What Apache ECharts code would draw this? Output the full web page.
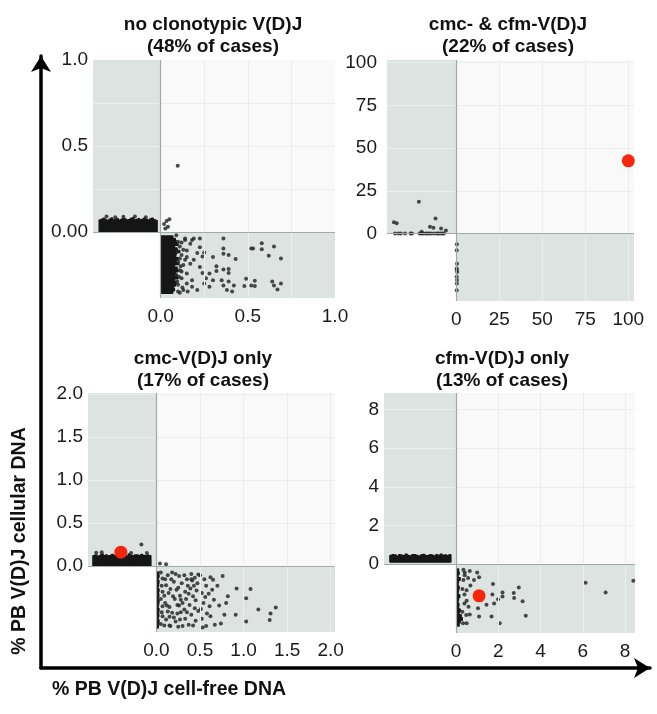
<!DOCTYPE html>
<html><head><meta charset="utf-8">
<script src="https://cdn.jsdelivr.net/npm/echarts@6/dist/echarts.min.js"></script>
<style>html,body{margin:0;padding:0;background:#fff}#c{width:657px;height:714px}</style>
</head><body><div id="c"></div>
<script>
// ---------- titles ----------
const panelTitles = [
  'no clonotypic V(D)J\n(48% of cases)',
  'cmc- & cfm-V(D)J\n(22% of cases)',
  'cmc-V(D)J only\n(17% of cases)',
  'cfm-V(D)J only\n(13% of cases)'
];
const xAxisTitle = '% PB V(D)J cell-free DNA';
const yAxisTitle = '% PB V(D)J cellular DNA';

// ---------- tick values / labels ----------
const p1Ticks = [0, 0.5, 1.0];       const p1XLabels = ['0.0','0.5','1.0']; const p1YLabels = ['0.00','0.5','1.0'];
const p2Ticks = [0, 25, 50, 75, 100]; const p2XLabels = ['0','25','50','75','100']; const p2YLabels = ['0','25','50','75','100'];
const p3Ticks = [0, 0.5, 1.0, 1.5, 2.0]; const p3XLabels = ['0.0','0.5','1.0','1.5','2.0']; const p3YLabels = ['0.0','0.5','1.0','1.5','2.0'];
const p4Ticks = [0, 2, 4, 6, 8];      const p4XLabels = ['0','2','4','6','8']; const p4YLabels = ['0','2','4','6','8'];

// ---------- panel 1: no clonotypic V(D)J ----------
// left strip: cellular values (cf-DNA undetectable), dense band upper envelope
const p1LeftBand = [0.07,0.075,0.08,0.072,0.068,0.075,0.082,0.07,0.074,0.078,0.069,0.073,0.08,0.076,0.07,0.072,0.079,0.083,0.071,0.074,0.077,0.07,0.075,0.081,0.073,0.069,0.076,0.08,0.072,0.068];
// [value, jitter]
const p1LeftPts = [[0.09,0.2],[0.088,0.45],[0.09,0.62],[0.085,0.78],[0.086,0.33]];
// bottom strip: cf-DNA values (cellular undetectable), dense band right envelope
const p1BottomBand = [0.07,0.085,0.09,0.1,0.08,0.095,0.11,0.09,0.085,0.1,0.09,0.105,0.08,0.095,0.1,0.085,0.09,0.1,0.08,0.09,0.085,0.075,0.08,0.07];
// [value, jitter]
const p1BottomPts = [
  [0.225,0.10],[0.36,0.10],[0.58,0.17],[0.65,0.22],[0.52,0.25],[0.53,0.25],[0.58,0.26],[0.36,0.25],
  [0.43,0.41],[0.69,0.40],[0.62,0.36],[0.39,0.35],[0.36,0.33],[0.30,0.38],[0.25,0.31],[0.24,0.37],
  [0.225,0.23],[0.18,0.12],[0.19,0.10],[0.17,0.18],[0.21,0.32],[0.32,0.52],[0.32,0.59],[0.39,0.56],
  [0.39,0.62],[0.36,0.57],[0.28,0.63],[0.26,0.70],[0.30,0.73],[0.25,0.78],[0.21,0.88],[0.35,0.73],
  [0.36,0.81],[0.39,0.75],[0.38,0.88],[0.41,0.90],[0.42,0.81],[0.49,0.71],[0.48,0.82],[0.52,0.81],
  [0.54,0.74],[0.54,0.82],[0.64,0.75],[0.65,0.81],[0.69,0.78],[0.67,0.87],[0.19,0.42],[0.17,0.48],
  [0.225,0.53],[0.24,0.62],[0.18,0.73],[0.18,0.83],[0.28,0.83],[0.14,0.12],[0.15,0.28],[0.15,0.38],
  [0.15,0.63],[0.15,0.78],[0.155,0.90],
  [0.09,0.05],[0.1,0.15],[0.11,0.22],[0.095,0.3],[0.12,0.35],[0.1,0.45],[0.13,0.5],[0.11,0.58],
  [0.09,0.65],[0.12,0.7],[0.1,0.8],[0.13,0.88],[0.11,0.92],[0.14,0.1],[0.12,0.6],[0.14,0.42],
  [0.095,0.75],[0.13,0.27],[0.12,0.16],[0.11,0.4],[0.105,0.68],[0.125,0.84],[0.115,0.52],[0.1,0.9]
];
// [cf-DNA, cellular]
const p1MainPts = [[0.02,0.047],[0.034,0.064],[0.05,0.074],[0.042,0.031],[0.027,0.02],[0.098,0.385]];

// ---------- panel 2: cmc- & cfm-V(D)J ----------
const p2LeftPts = [
  [0,0.116],[0,0.165],[0,0.2],[0,0.26],[0,0.34],[0,0.36],[0,0.47],[0,0.5],[0,0.52],[0,0.56],
  [0,0.58],[0,0.61],[0,0.64],[0,0.68],[0,0.72],[0,0.74],[0,0.77],[0,0.8],[0,0.82],
  [6.6,0.1],[6,0.14],[18.5,0.46],[8.8,0.7],[3.9,0.62],[3.3,0.67],[2.9,0.78],[1.8,0.85],[1.0,0.5]
];
const p2BottomPts = [[0.3,0.16],[0.2,0.25],[0.4,0.45],[0.2,0.52],[0.3,0.54],[0.5,0.57],[0.2,0.64],[0.4,0.69],[0.3,0.74],[0.2,0.84]];
const p2Red = [[100, 42.5]];

// ---------- panel 3: cmc-V(D)J only ----------
const p3LeftBand = [0.12,0.13,0.115,0.125,0.14,0.12,0.13,0.118,0.125,0.135,0.12,0.13,0.145,0.12,0.125,0.13,0.118,0.14,0.125,0.12,0.13,0.128,0.12,0.135,0.125,0.12,0.13,0.12];
const p3LeftPts = [[0.25,0.78],[0.16,0.2],[0.15,0.63],[0.155,0.12],[0.15,0.86]];
const p3BottomBand = [0.025,0.03,0.02,0.03,0.025,0.02,0.03,0.025,0.028,0.02,0.03,0.025,0.02,0.03,0.025,0.028,0.02,0.03,0.025,0.022];
const p3BottomPts = [
  [0.76,0.15],[0.92,0.34],[1.08,0.35],[1.03,0.49],[1.17,0.66],[1.37,0.63],[1.31,0.72],[1.30,0.82],
  [1.03,0.84],[0.91,0.74],[0.82,0.46],[0.80,0.56],[0.78,0.74],[0.74,0.87],[0.65,0.21],[0.62,0.17],
  [0.64,0.36],[0.66,0.51],[0.61,0.61],[0.62,0.76],[0.67,0.89],[0.57,0.91],[0.50,0.14],[0.47,0.26],
  [0.52,0.41],[0.54,0.56],[0.48,0.68],[0.45,0.83],[0.40,0.12],[0.41,0.22],[0.39,0.34],[0.42,0.46],
  [0.38,0.59],[0.40,0.74],[0.37,0.89],[0.32,0.14],[0.29,0.26],[0.33,0.39],[0.28,0.51],[0.32,0.66],
  [0.27,0.81],[0.30,0.91],[0.22,0.12],[0.20,0.24],[0.23,0.36],[0.19,0.46],[0.24,0.59],[0.18,0.71],
  [0.22,0.84],[0.16,0.91],[0.13,0.14],[0.11,0.29],[0.14,0.41],[0.10,0.56],[0.13,0.69],[0.11,0.81],
  [0.15,0.90],[0.07,0.19],[0.07,0.39],[0.07,0.61],[0.07,0.76],
  [0.05,0.1],[0.06,0.3],[0.05,0.5],[0.06,0.7],[0.05,0.88],[0.09,0.45],[0.09,0.9],[0.17,0.2],
  [0.16,0.35],[0.15,0.62],[0.2,0.78],[0.26,0.15],[0.25,0.33],[0.27,0.45],[0.26,0.6],[0.24,0.72],
  [0.25,0.92],[0.35,0.2],[0.36,0.3],[0.34,0.5],[0.35,0.7],[0.33,0.8],[0.44,0.18],[0.43,0.3],
  [0.45,0.52],[0.44,0.64],[0.42,0.9],[0.55,0.2],[0.57,0.3],[0.56,0.47],[0.58,0.72],[0.52,0.8],
  [0.6,0.42],[0.7,0.3],[0.72,0.6],[0.48,0.13],[0.51,0.65],[0.3,0.56],[0.21,0.5],[0.12,0.6],
  [0.18,0.1],[0.37,0.42],[0.46,0.37],[0.53,0.93],[0.1,0.2],[0.28,0.7],[0.4,0.2],[0.15,0.77]
];
const p3MainPts = [[0.04,0.03],[0.11,0.02]];
const p3RedLeft = [[0.16, 0.48]];

// ---------- panel 4: cfm-V(D)J only ----------
const p4LeftBand = [0.45,0.5,0.48,0.42,0.5,0.47,0.44,0.52,0.46,0.43,0.49,0.5,0.45,0.42,0.48,0.51,0.46,0.44,0.5,0.47,0.43,0.49,0.46,0.52,0.45,0.48,0.44,0.5];
const p4LeftBase = 0.1;
const p4BottomBand = [0.12,0.15,0.1,0.2,0.12,0.1,0.15,0.12,0.1,0.18,0.12,0.1,0.14,0.12,0.2,0.15,0.25,0.3,0.2,0.15];
const p4BottomPts = [
  [1.0,0.12],[1.09,0.19],[0.85,0.23],[0.41,0.16],[0.35,0.23],[0.57,0.20],[0.68,0.31],[1.75,0.29],
  [2.97,0.34],[2.73,0.42],[2.2,0.41],[2.2,0.47],[1.72,0.44],[1.99,0.51],[2.75,0.49],[3.15,0.54],
  [1.8,0.57],[1.44,0.59],[1.04,0.64],[0.59,0.62],[0.4,0.57],[0.5,0.53],[0.4,0.44],[0.3,0.36],
  [0.5,0.38],[0.3,0.69],[0.48,0.74],[0.65,0.73],[1.09,0.76],[1.68,0.76],[3.30,0.75],[2.07,0.86],
  [0.5,0.86],[0.33,0.86],[0.41,0.12],[0.35,0.08],[0.65,0.10],[6.13,0.27],[7.08,0.41],[8.39,0.24]
];
const p4RedBottom = [[1.09, 0.46]];

// ================= layout (pixels / axis ranges) =================
const panels = [
  {grid:{left:93, top:60, width:242, height:238}, xmin:-0.388, xmax:1.0, ymin:-0.384, ymax:1.0,
   ticks:p1Ticks, xl:p1XLabels, yl:p1YLabels, grid2:[0.25,0.5,0.75],
   leftBand:p1LeftBand, leftBase:0, lf:[0.09,0.95], bottomBand:p1BottomBand, bf:[0.06,0.93],
   leftPts:p1LeftPts, bottomPts:p1BottomPts, mainPts:p1MainPts, red:[], redLeft:[], redBottom:[],
   title:panelTitles[0], tx:213, ty:14},
  {grid:{left:387, top:60, width:247, height:241}, xmin:-40.3, xmax:103.3, ymin:-39.5, ymax:101.5,
   ticks:p2Ticks, xl:p2XLabels, yl:p2YLabels, grid2:[25,50,75,100],
   leftBand:[], leftBase:0, lf:[0,1], bottomBand:[], bf:[0,1],
   leftPts:p2LeftPts, bottomPts:p2BottomPts, mainPts:[], red:p2Red, redLeft:[], redBottom:[],
   title:panelTitles[1], tx:508, ty:14},
  {grid:{left:88, top:393, width:247, height:239}, xmin:-0.786, xmax:2.05, ymin:-0.767, ymax:2.01,
   ticks:p3Ticks, xl:p3XLabels, yl:p3YLabels, grid2:[0.5,1.0,1.5,2.0],
   leftBand:p3LeftBand, leftBase:0, lf:[0.07,0.92], bottomBand:p3BottomBand, bf:[0.09,0.94],
   leftPts:p3LeftPts, bottomPts:p3BottomPts, mainPts:p3MainPts, red:[], redLeft:p3RedLeft, redBottom:[],
   title:panelTitles[2], tx:203, ty:348},
  {grid:{left:384, top:393, width:251, height:240}, xmin:-3.41, xmax:8.47, ymin:-3.56, ymax:8.85,
   ticks:p4Ticks, xl:p4XLabels, yl:p4YLabels, grid2:[2,4,6,8],
   leftBand:p4LeftBand, leftBase:p4LeftBase, lf:[0.08,0.93], bottomBand:p4BottomBand, bf:[0.07,0.9],
   leftPts:[], bottomPts:p4BottomPts, mainPts:[], red:[], redLeft:[], redBottom:p4RedBottom,
   title:panelTitles[3], tx:502, ty:348}
];

const FONT = '"Liberation Sans", Arial, sans-serif';
const STRIP = '#dde3e0', MAINBG = '#f8f9f8', ZERO = '#a2aaa6', GRIDC = '#eaeeec';
const DOT = '#2a2a2a', RED = '#f4260c';

const grids = [], xAxes = [], yAxes = [], series = [], graphics = [];

function labelFn(ticks, labels){
  return function(v){ const i = ticks.findIndex(t => Math.abs(t - v) < 1e-9); return i >= 0 ? labels[i] : ''; };
}
function rectRender(params, api){
  const a = api.coord([api.value(0), api.value(1)]);
  const b = api.coord([api.value(2), api.value(3)]);
  const pad = 0.6;
  return {type:'rect',
          shape:{x:Math.min(a[0],b[0]) - pad, y:Math.min(a[1],b[1]) - pad,
                 width:Math.abs(b[0]-a[0]) + 2*pad, height:Math.abs(b[1]-a[1]) + 2*pad, r:1},
          style:{fill:'#161616'}};
}

panels.forEach((p, i) => {
  grids.push(Object.assign({containLabel:false}, p.grid));
  xAxes.push({gridIndex:i, type:'value', min:p.xmin, max:p.xmax,
    axisLine:{show:false, onZero:false}, axisTick:{show:false}, splitLine:{show:false},
    axisLabel:{customValues:p.ticks, formatter:labelFn(p.ticks, p.xl), fontSize:19, fontFamily:FONT, color:'#1b1b1b', margin:9}});
  yAxes.push({gridIndex:i, type:'value', min:p.ymin, max:p.ymax,
    axisLine:{show:false, onZero:false}, axisTick:{show:false}, splitLine:{show:false},
    axisLabel:{customValues:p.ticks, formatter:labelFn(p.ticks, p.yl), fontSize:19, fontFamily:FONT, color:'#1b1b1b', margin:i===1?10:5}});

  const ax = {xAxisIndex:i, yAxisIndex:i};
  const leftX = f => p.xmin * (1 - f);   // jitter inside left strip
  const botY  = f => p.ymin * f;         // jitter inside bottom strip

  // backgrounds
  series.push(Object.assign({type:'scatter', data:[], silent:true, z:0,
    markArea:{silent:true, label:{show:false}, emphasis:{disabled:true},
      data:[
        [{coord:[0,0], itemStyle:{color:MAINBG, opacity:1}}, {coord:[p.xmax,p.ymax]}],
        [{coord:[p.xmin,0], itemStyle:{color:STRIP, opacity:1}}, {coord:[0,p.ymax]}],
        [{coord:[0,p.ymin], itemStyle:{color:STRIP, opacity:1}}, {coord:[p.xmax,0]}]
      ]}}, ax));

  // faint grid lines + zero lines
  const gl = [];
  p.grid2.forEach(v => {
    if (v < p.xmax) gl.push([{coord:[v,p.ymin]}, {coord:[v,p.ymax]}]);
    if (v < p.ymax) gl.push([{coord:[p.xmin,v]}, {coord:[p.xmax,v]}]);
  });
  series.push(Object.assign({type:'scatter', data:[], silent:true, z:1,
    markLine:{silent:true, symbol:['none','none'], label:{show:false}, emphasis:{disabled:true},
      lineStyle:{type:'solid', color:GRIDC, width:1}, data:gl}}, ax));
  series.push(Object.assign({type:'scatter', data:[], silent:true, z:2,
    markLine:{silent:true, symbol:['none','none'], label:{show:false}, emphasis:{disabled:true},
      lineStyle:{type:'solid', color:ZERO, width:1.2},
      data:[[{coord:[0,p.ymin]},{coord:[0,p.ymax]}], [{coord:[p.xmin,0]},{coord:[p.xmax,0]}]]}}, ax));

  // dense bands
  const bandData = [];
  const nL = p.leftBand.length;
  p.leftBand.forEach((v, k) => {
    const f0 = p.lf[0] + (p.lf[1]-p.lf[0]) * k / nL, f1 = p.lf[0] + (p.lf[1]-p.lf[0]) * (k+1) / nL;
    bandData.push([leftX(f0), p.leftBase, leftX(f1), v]);
  });
  const nB = p.bottomBand.length;
  p.bottomBand.forEach((v, k) => {
    const f0 = p.bf[0] + (p.bf[1]-p.bf[0]) * k / nB, f1 = p.bf[0] + (p.bf[1]-p.bf[0]) * (k+1) / nB;
    bandData.push([p.xmax * 0.003, botY(f0), v, botY(f1)]);
  });
  if (bandData.length) series.push(Object.assign({type:'custom', renderItem:rectRender, data:bandData,
    encode:{x:[0,2], y:[1,3]}, silent:true, z:3, clip:false}, ax));

  // individual points
  const pts = [];
  p.leftPts.forEach(d => pts.push([leftX(d[1]), d[0]]));
  p.bottomPts.forEach(d => pts.push([d[0], botY(d[1])]));
  p.mainPts.forEach(d => pts.push([d[0], d[1]]));
  series.push(Object.assign({type:'scatter', data:pts, symbolSize:4, silent:true, z:4,
    itemStyle:{color:DOT, opacity:0.85}}, ax));

  const reds = [];
  p.red.forEach(d => reds.push([d[0], d[1]]));
  p.redLeft.forEach(d => reds.push([leftX(d[1]), d[0]]));
  p.redBottom.forEach(d => reds.push([d[0], botY(d[1])]));
  if (reds.length) series.push(Object.assign({type:'scatter', data:reds, symbolSize:13, silent:true, z:5,
    itemStyle:{color:RED, opacity:1}}, ax));

  graphics.push({type:'text', x:p.tx, y:p.ty, silent:true,
    style:{text:p.title, fontSize:19, fontWeight:'bold', fontFamily:FONT, fill:'#111',
           align:'center', verticalAlign:'top', lineHeight:22}});
});

// big L-shaped arrow axes
grids.push({left:41, top:56, right:7, bottom:46});
xAxes.push({gridIndex:4, type:'value', min:0, max:1, position:'bottom',
  axisLine:{show:true, onZero:false, symbol:['none','arrow'], symbolSize:[15,16], lineStyle:{color:'#000', width:3.5}},
  axisTick:{show:false}, axisLabel:{show:false}, splitLine:{show:false}});
yAxes.push({gridIndex:4, type:'value', min:0, max:1, position:'left',
  axisLine:{show:true, onZero:false, symbol:['none','arrow'], symbolSize:[15,16], lineStyle:{color:'#000', width:3.5}},
  axisTick:{show:false}, axisLabel:{show:false}, splitLine:{show:false}});

graphics.push({type:'text', x:52, y:690, silent:true,
  style:{text:xAxisTitle, fontSize:19.5, fontWeight:'bold', fontFamily:FONT, fill:'#111', align:'left', verticalAlign:'middle'}});
graphics.push({type:'text', x:20, y:541, rotation:Math.PI/2, silent:true,
  style:{text:yAxisTitle, fontSize:19.5, fontWeight:'bold', fontFamily:FONT, fill:'#111', align:'center', verticalAlign:'middle'}});

const chart = echarts.init(document.getElementById('c'), null, {renderer:'canvas'});
chart.setOption({
  animation:false, backgroundColor:'#fff',
  grid:grids, xAxis:xAxes, yAxis:yAxes, series:series, graphic:graphics
});
</script></body></html>
